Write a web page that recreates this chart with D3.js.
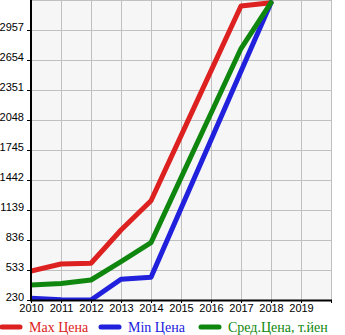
<!DOCTYPE html>
<html>
<head>
<meta charset="utf-8">
<script src="https://cdn.jsdelivr.net/npm/d3@7/dist/d3.min.js"></script>
<style>
  html, body { margin: 0; padding: 0; background: #ffffff; }
  svg { display: block; }
</style>
</head>
<body>
<svg id="chart" width="345" height="335"></svg>
<script>
// Years on the x axis
const years = [2010, 2011, 2012, 2013, 2014, 2015, 2016, 2017, 2018];
const yearTicks = [2010, 2011, 2012, 2013, 2014, 2015, 2016, 2017, 2018, 2019];

// Prices per year (thousand yen)
const maxPrice = [523, 594, 601, 937, 1233, 1888, 2544, 3199, 3233];
const minPrice = [248, 232, 230, 439, 459, 1153, 1846, 2540, 3233];
const avgPrice = [382, 397, 432, 617, 809, 1463, 2116, 2770, 3233];

// Value axis ticks
const valueTicks = [230, 533, 836, 1139, 1442, 1745, 2048, 2351, 2654, 2957];

const seriesNames = ["Max Цена", "Min Цена", "Сред.Цена, т.йен"];
const seriesColors = ["#dd2020", "#2020dd", "#0f870f"];

const svg = d3.select("#chart");
const plot = { left: 31, right: 331, top: 0, bottom: 300 };

const x = d3.scaleLinear().domain([2010, 2020]).range([plot.left, plot.right]);
const y = d3.scaleLinear().domain([230, 3260]).range([plot.bottom, plot.top]);

// Plot background
svg.append("rect")
  .attr("x", plot.left).attr("y", plot.top)
  .attr("width", plot.right - plot.left).attr("height", plot.bottom - plot.top)
  .attr("fill", "#f6f6f6");

// Grid
const grid = svg.append("g").attr("stroke", "#c0c0c0").attr("stroke-width", 1);
grid.selectAll("line.v")
  .data(d3.range(2011, 2021))
  .join("line")
  .attr("x1", d => Math.round(x(d)) + 0.5).attr("x2", d => Math.round(x(d)) + 0.5)
  .attr("y1", plot.top).attr("y2", plot.bottom);
grid.selectAll("line.h")
  .data(valueTicks.slice(1).concat([3260]))
  .join("line")
  .attr("x1", plot.left).attr("x2", plot.right + 1)
  .attr("y1", d => Math.round(y(d)) + 0.5).attr("y2", d => Math.round(y(d)) + 0.5);

// Series lines
const line = d3.line()
  .x((d, i) => x(years[i]))
  .y(d => y(d));

svg.append("clipPath").attr("id", "plotclip")
  .append("rect")
  .attr("x", plot.left).attr("y", plot.top)
  .attr("width", plot.right - plot.left).attr("height", plot.bottom - plot.top);

const seriesData = [maxPrice, minPrice, avgPrice];
svg.append("g").attr("clip-path", "url(#plotclip)")
  .selectAll("path")
  .data(seriesData)
  .join("path")
  .attr("d", d => line(d))
  .attr("fill", "none")
  .attr("stroke", (d, i) => seriesColors[i])
  .attr("stroke-width", 5)
  .attr("stroke-linejoin", "round")
  .attr("stroke-linecap", "round");

// Y axis
const yAxis = svg.append("g")
  .attr("transform", `translate(${plot.left},0)`)
  .call(d3.axisLeft(y).tickValues(valueTicks).tickSize(4).tickFormat(d3.format("d")));
yAxis.select(".domain").remove();
yAxis.selectAll(".tick line").attr("stroke", "#000");
yAxis.selectAll(".tick text")
  .attr("x", -7).attr("dy", "0")
  .attr("font-family", "'Liberation Sans', Arial, sans-serif")
  .attr("font-size", 11).attr("fill", "#000");
svg.append("line")
  .attr("x1", plot.left).attr("x2", plot.left)
  .attr("y1", plot.top).attr("y2", plot.bottom + 1)
  .attr("stroke", "#000").attr("stroke-width", 2);

// X axis
const xAxis = svg.append("g")
  .attr("transform", `translate(0,${plot.bottom})`)
  .call(d3.axisBottom(x).tickValues(yearTicks.concat([2020])).tickSize(3).tickFormat(d => d === 2020 ? "" : d));
xAxis.select(".domain").remove();
xAxis.selectAll(".tick line").attr("stroke", "#000");
xAxis.selectAll(".tick text")
  .attr("y", 4)
  .attr("font-family", "'Liberation Sans', Arial, sans-serif")
  .attr("font-size", 11).attr("fill", "#000");
svg.append("line")
  .attr("x1", plot.left - 1).attr("x2", plot.right + 1)
  .attr("y1", plot.bottom + 0.5).attr("y2", plot.bottom + 0.5)
  .attr("stroke", "#000").attr("stroke-width", 2);

// Legend
const legendX = [0, 99, 199];
const legend = svg.append("g").attr("transform", "translate(0,327)");
const items = legend.selectAll("g")
  .data(seriesNames)
  .join("g")
  .attr("transform", (d, i) => `translate(${legendX[i]},0)`);
items.append("line")
  .attr("x1", 2).attr("x2", 20).attr("y1", 0).attr("y2", 0)
  .attr("stroke", (d, i) => seriesColors[i])
  .attr("stroke-width", 5)
  .attr("stroke-linecap", "round");
items.append("text")
  .attr("x", 29).attr("y", 5)
  .attr("font-family", "'Liberation Serif', 'Times New Roman', serif")
  .attr("font-size", 14)
  .attr("fill", (d, i) => seriesColors[i])
  .text(d => d);
</script>
</body>
</html>
